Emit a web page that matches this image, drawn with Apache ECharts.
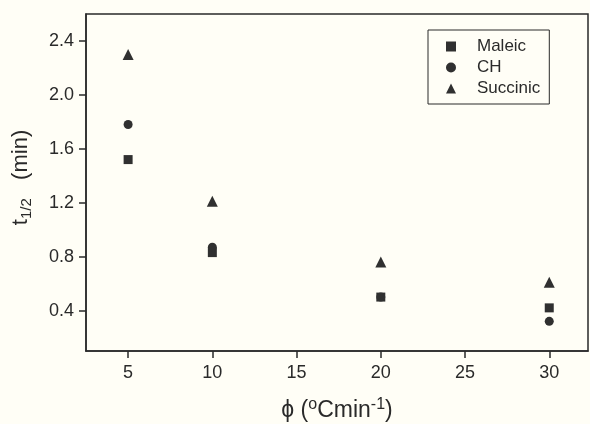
<!DOCTYPE html>
<html>
<head>
<meta charset="utf-8">
<script src="https://cdn.jsdelivr.net/npm/echarts@6/dist/echarts.min.js"></script>
<style>
  html, body { margin: 0; padding: 0; background: #fffef6; }
  #chart { width: 590px; height: 424px; }
</style>
</head>
<body>
<div id="chart"></div>
<script>
// Heating rate (°C/min) and half-time values for each acid
const rates = [5, 10, 20, 30];
const maleic = [1.52, 0.83, 0.50, 0.42];
const ch = [1.78, 0.87, 0.50, 0.32];
const succinic = [2.30, 1.21, 0.76, 0.61];

const xTicks = [5, 10, 15, 20, 25, 30];
const yTicks = [0.4, 0.8, 1.2, 1.6, 2.0, 2.4];

const FONT = '"Liberation Sans", Arial, sans-serif';
const INK = '#2a2a2a';
const MARK = { color: '#303030', opacity: 1 };

function pairs(vals) {
  return rates.map((r, i) => [r, vals[i]]);
}

const chart = echarts.init(document.getElementById('chart'));
chart.setOption({
  backgroundColor: '#fffef6',
  animation: false,
  grid: {
    left: 86, right: 2, top: 14, bottom: 73,
    containLabel: false, outerBoundsMode: 'none',
    show: true, borderColor: INK, borderWidth: 1.5, backgroundColor: 'transparent'
  },
  legend: {
    left: 428, top: 30, orient: 'vertical',
    borderColor: INK, borderWidth: 1,
    padding: [8, 9, 7, 18],
    itemWidth: 10, itemHeight: 10, itemGap: 4,
    textStyle: { fontFamily: FONT, fontSize: 17, color: INK, padding: [0, 0, 0, 16] },
    data: ['Maleic', 'CH', 'Succinic']
  },
  xAxis: {
    type: 'value', min: 2.5, max: 32.3,
    axisLine: { lineStyle: { color: INK, width: 1.5 } },
    axisTick: { show: true, inside: false, length: 7, customValues: xTicks, lineStyle: { color: INK, width: 1.5 } },
    axisLabel: { customValues: xTicks, margin: 13, fontFamily: FONT, fontSize: 18, color: INK },
    splitLine: { show: false },
    name: '{a|ϕ (}{s|o}{a|Cmin}{s|-1}{a|)}',
    nameLocation: 'middle', nameGap: 46,
    nameTextStyle: {
      rich: {
        a: { fontFamily: FONT, fontSize: 23, color: INK, lineHeight: 28 },
        s: { fontFamily: FONT, fontSize: 16, color: INK, verticalAlign: 'top', lineHeight: 9 }
      }
    }
  },
  yAxis: {
    type: 'value', min: 0.1, max: 2.6,
    axisLine: { show: true, lineStyle: { color: INK, width: 1.5 } },
    axisTick: { show: true, inside: false, length: 7, customValues: yTicks, lineStyle: { color: INK, width: 1.5 } },
    axisLabel: {
      customValues: yTicks, margin: 12, fontFamily: FONT, fontSize: 18, color: INK,
      formatter: v => v.toFixed(1)
    },
    splitLine: { show: false },
    name: '{a|t}{s|1/2}{a|   (min)}',
    nameLocation: 'middle', nameGap: 52,
    nameTextStyle: {
      padding: [0, 0, 0, 10],
      rich: {
        a: { fontFamily: FONT, fontSize: 22, color: INK, lineHeight: 26 },
        s: { fontFamily: FONT, fontSize: 15, color: INK, verticalAlign: 'bottom', lineHeight: 14 }
      }
    }
  },
  series: [
    { name: 'Maleic', type: 'scatter', symbol: 'rect', symbolSize: 9, itemStyle: MARK, data: pairs(maleic) },
    { name: 'CH', type: 'scatter', symbol: 'circle', symbolSize: 9, itemStyle: MARK, data: pairs(ch) },
    { name: 'Succinic', type: 'scatter', symbol: 'triangle', symbolSize: 11, itemStyle: MARK, data: pairs(succinic) }
  ]
});
</script>
</body>
</html>
